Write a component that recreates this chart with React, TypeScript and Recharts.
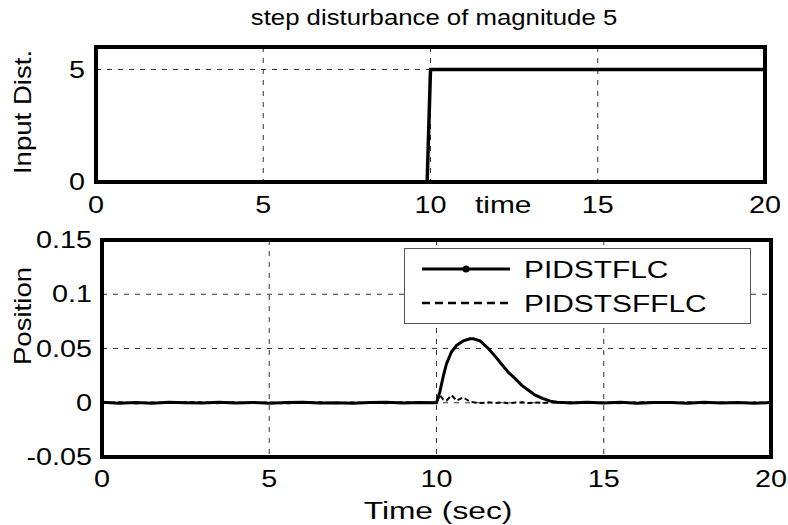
import React from 'react';
import { LineChart, Line, XAxis, YAxis, CartesianGrid, Legend } from 'recharts';

const FONT = '"Liberation Sans", Arial, Helvetica, sans-serif';
const SX = 1.25;

// ---- data ----
const xTicks = [0, 5, 10, 15, 20];
const xDomain = [0, 20];

const distYTicks = [0, 5];
const distYDomain = [0, 6];
const distTime = [0, 9.9, 10.0, 20];
const distValue = [0, 0, 5, 5];

const posYTicks = [-0.05, 0, 0.05, 0.1, 0.15];
const posYLabels = ['-0.05', '0', '0.05', '0.1', '0.15'];
const posYDomain = [-0.05, 0.15];

const posTime = [
  0, 0.5, 1, 1.5, 2, 2.5, 3, 3.5, 4, 4.5, 5, 5.5, 6, 6.5, 7, 7.5, 8, 8.5, 9, 9.5,
  10, 10.1, 10.2, 10.3, 10.45, 10.6, 10.8, 11, 11.1, 11.3, 11.55, 11.75, 11.96, 12.15, 12.36, 12.55, 12.77, 12.95, 13.17, 13.4, 13.6, 13.8,
  14, 14.5, 15, 15.5, 16, 16.5, 17, 17.5, 18, 18.5, 19, 19.5, 20,
];
const pidstflc = [
  0.0005, -0.0004, 0.0003, -0.0005, 0.0004, 0.0001, -0.0003, 0.0005, -0.0002, 0.0003,
  -0.0004, 0.0002, 0.0004, -0.0003, 0.0001, -0.0005, 0.0003, 0.0004, -0.0002, 0.0003,
  0.0, 0.010, 0.024, 0.036, 0.047, 0.053, 0.057, 0.059, 0.059, 0.057, 0.050, 0.043, 0.035, 0.028, 0.022, 0.016, 0.011, 0.007, 0.004, 0.0015, 0.0005, 0.0002,
  -0.0003, 0.0004, -0.0002, 0.0005, -0.0004, 0.0002, 0.0003, -0.0005, 0.0004, -0.0002, 0.0003, -0.0004, 0.0002,
];
const pidstsfflc = [
  -0.0003, 0.0004, -0.0005, 0.0002, -0.0002, 0.0005, 0.0003, -0.0004, 0.0004, -0.0003,
  0.0002, -0.0005, -0.0001, 0.0004, -0.0004, 0.0003, -0.0002, -0.0004, 0.0005, -0.0003,
  0.0, 0.007, 0.003, 0.002, 0.007, 0.002, 0.005, 0.001, 0.0005, -0.0003, 0.0004, -0.0002, 0.0003, -0.0004, 0.0002, 0.0004, -0.0003, 0.0002, -0.0002, 0.0003, 0.0001, -0.0002,
  0.0004, -0.0003, 0.0002, -0.0004, 0.0003, 0.0005, -0.0002, 0.0004, -0.0005, 0.0003, -0.0003, 0.0002, 0.0,
];

const seriesNames = ['PIDSTFLC', 'PIDSTSFFLC'];
const titleText = 'step disturbance of magnitude 5';

const distData = distTime.map((t, i) => ({ t, v: distValue[i] }));
const posData = posTime.map((t, i) => ({ t, a: pidstflc[i], b: pidstsfflc[i] }));

// ---- helpers ----
const HText = ({ x, y, anchor = 'middle', size = 23, sx = SX, children }: any) => (
  <text
    transform={`translate(${x},${y}) scale(${sx},1)`}
    textAnchor={anchor}
    fontFamily={FONT}
    fontSize={size}
    fill="#000"
  >
    {children}
  </text>
);

const VText = ({ x, y, size = 23, children }: any) => (
  <text
    transform={`translate(${x},${y}) rotate(-90) scale(1.2,1)`}
    textAnchor="middle"
    fontFamily={FONT}
    fontSize={size}
    fill="#000"
  >
    {children}
  </text>
);

const makeXTick = (off: number) => (p: any) => (
  <HText x={p.x} y={p.y + off}>{String(p.payload.value)}</HText>
);
const makeYTick = (off: number, labels?: string[]) => (p: any) => (
  <HText x={p.x - off} y={p.y + 8} anchor="end">
    {labels ? labels[p.index] ?? String(p.payload.value) : String(p.payload.value)}
  </HText>
);

const LegendBox = () => (
  <div style={{ width: 347, height: 76, boxSizing: 'border-box', border: '1px solid #555', background: '#fff' }}>
    <svg width={345} height={74} style={{ display: 'block' }}>
      <line x1={17} x2={105} y1={20} y2={20} stroke="#000" strokeWidth={3} />
      <circle cx={61} cy={20} r={3.5} fill="#000" />
      <HText x={119} y={28.5} anchor="start" size={23} sx={1.3}>{seriesNames[0]}</HText>
      <line x1={17} x2={105} y1={54} y2={54} stroke="#000" strokeWidth={2.5} strokeDasharray="8 5" />
      <HText x={119} y={62.5} anchor="start" size={23} sx={1.3}>{seriesNames[1]}</HText>
    </svg>
  </div>
);

const gridProps = { stroke: '#333', strokeDasharray: '5 6', strokeWidth: 1 };
const tickLineProps = { stroke: '#000', strokeWidth: 2 };
const frameProps = { stroke: '#000', strokeWidth: 4, strokeLinecap: 'square' as const };

// frame + inward tick marks (mirrored axes, no labels)
const frameAxes = (yDomain: number[], yTicks: number[]) => [
  <XAxis key="fb" xAxisId="fb" orientation="bottom" mirror dataKey="t" type="number" domain={xDomain} ticks={xTicks}
    allowDataOverflow height={1} axisLine={frameProps} tickLine={tickLineProps} tickSize={7} tick={false} interval={0} />,
  <XAxis key="ft" xAxisId="ft" orientation="top" mirror dataKey="t" type="number" domain={xDomain} ticks={xTicks}
    allowDataOverflow height={1} axisLine={frameProps} tickLine={tickLineProps} tickSize={7} tick={false} interval={0} />,
  <YAxis key="fl" yAxisId="fl" orientation="left" mirror type="number" domain={yDomain} ticks={yTicks}
    allowDataOverflow width={1} axisLine={frameProps} tickLine={tickLineProps} tickSize={7} tick={false} interval={0} />,
  <YAxis key="fr" yAxisId="fr" orientation="right" mirror type="number" domain={yDomain} ticks={yTicks}
    allowDataOverflow width={1} axisLine={frameProps} tickLine={tickLineProps} tickSize={7} tick={false} interval={0} />,
];

export default function App() {
  return (
    <div style={{ position: 'absolute', left: 0, top: 0, width: 788, height: 525, background: '#fff' }}>
      <div style={{ position: 'absolute', left: 0, top: 0 }}>
        <LineChart width={788} height={525} data={distData} margin={{ top: 47, right: 23, bottom: 313, left: 36 }}>
          <CartesianGrid {...gridProps} />
          <XAxis
            dataKey="t" type="number" domain={xDomain} ticks={xTicks} allowDataOverflow
            height={30} axisLine={false} tickLine={false} tickSize={0} tickMargin={0}
            tick={makeXTick(31)} interval={0}
          />
          <YAxis
            type="number" domain={distYDomain} ticks={distYTicks} allowDataOverflow width={60}
            axisLine={false} tickLine={false} tickSize={0} tickMargin={0}
            tick={makeYTick(11)} interval={0}
          />
          {frameAxes(distYDomain, distYTicks)}
          <Line dataKey="v" stroke="#000" strokeWidth={3.5} dot={false} isAnimationActive={false} type="linear" />
          <HText x={434} y={25} sx={1.12}>{titleText}</HText>
          <HText x={475} y={213} anchor="start" sx={1.3}>time</HText>
          <VText x={31} y={112}>Input Dist.</VText>
        </LineChart>
      </div>
      <div style={{ position: 'absolute', left: 0, top: 0 }}>
        <LineChart width={788} height={525} data={posData} margin={{ top: 240, right: 17, bottom: 38, left: 42 }}>
          <CartesianGrid {...gridProps} />
          <XAxis
            dataKey="t" type="number" domain={xDomain} ticks={xTicks} allowDataOverflow
            height={30} axisLine={false} tickLine={false} tickSize={0} tickMargin={0}
            tick={makeXTick(30)} interval={0}
          />
          <YAxis
            type="number" domain={posYDomain} ticks={posYTicks} allowDataOverflow width={60}
            axisLine={false} tickLine={false} tickSize={0} tickMargin={0}
            tick={makeYTick(10, posYLabels)} interval={0}
          />
          {frameAxes(posYDomain, posYTicks)}
          <Line dataKey="a" name={seriesNames[0]} stroke="#000" strokeWidth={3} dot={false} isAnimationActive={false} type="linear" />
          <Line dataKey="b" name={seriesNames[1]} stroke="#000" strokeWidth={2} strokeDasharray="5 3" dot={false} isAnimationActive={false} type="linear" />
          <Legend
            layout="horizontal" verticalAlign="middle" align="center"
            content={<LegendBox />}
            wrapperStyle={{ position: 'absolute', left: 404, top: 248, width: 347, height: 76 }}
          />
          <HText x={438} y={519} sx={1.38}>Time (sec)</HText>
          <VText x={31} y={316}>Position</VText>
        </LineChart>
      </div>
    </div>
  );
}
